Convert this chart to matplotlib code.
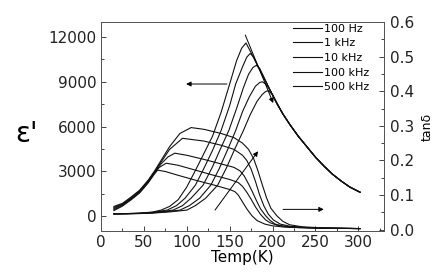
import numpy as np
import matplotlib
matplotlib.use("Agg")
import matplotlib.pyplot as plt
from matplotlib.ticker import MultipleLocator, FormatStrFormatter

plt.rcParams['font.family'] = ['DejaVu Sans']

labels = ["100 Hz", "1 kHz", "10 kHz", "100 kHz", "500 kHz"]

# shared high temperature tail of eps' (all frequencies merge)
tail_T = [212, 220, 230, 240, 250, 260, 270, 280, 290, 302]
tail_e = [6850, 6150, 5350, 4650, 3950, 3350, 2800, 2350, 1950, 1600]

# eps' (left axis)
eps_T = [
    [15, 30, 45, 60, 70, 80, 90, 100, 110, 120, 130, 140, 150, 158, 164, 169, 175, 182, 190, 197, 205],
    [15, 30, 45, 60, 77, 88, 98, 110, 120, 130, 140, 150, 157, 165, 170, 174, 178, 182, 190, 197, 205],
    [15, 30, 45, 60, 75, 84, 95, 105, 119, 130, 140, 149, 158, 166, 172, 177, 181, 185, 190, 197, 205],
    [15, 30, 45, 60, 75, 92, 103, 115, 128, 138, 148, 157, 165, 173, 180, 185, 188, 192, 197, 205],
    [15, 30, 45, 60, 80, 100, 110, 122, 136, 146, 156, 166, 174, 182, 188, 192, 195, 200, 205],
]
eps_v = [
    [150, 170, 200, 270, 400, 650, 1100, 1950, 3050, 4200, 5350, 6950, 8850, 10400, 11250, 11600, 10950, 10150, 9250, 8450, 7550],
    [150, 165, 190, 250, 400, 700, 1200, 2070, 3200, 4400, 5730, 7400, 8850, 10000, 10650, 10900, 10650, 10150, 9250, 8450, 7550],
    [150, 160, 180, 230, 330, 400, 700, 1200, 2070, 3300, 4600, 5730, 7200, 8600, 9500, 9950, 10100, 9900, 9300, 8450, 7550],
    [150, 160, 175, 215, 290, 400, 700, 1200, 2070, 3200, 4500, 5730, 7000, 8000, 8700, 8950, 9000, 8850, 8450, 7550],
    [150, 155, 170, 200, 280, 400, 700, 1200, 2070, 3200, 4500, 5730, 6800, 7700, 8150, 8350, 8400, 8150, 7600],
]

# tan delta (right axis)
tan_T = [
    [15, 25, 35, 45, 55, 62, 66, 75, 90, 110, 130, 150, 156, 160, 165, 170, 176, 182, 191, 200, 215, 240, 270, 302],
    [15, 25, 35, 45, 55, 62, 68, 76, 90, 110, 130, 150, 160, 165, 170, 175, 180, 186, 192, 197, 205, 220, 250, 302],
    [15, 25, 35, 45, 55, 62, 70, 78, 86, 100, 120, 140, 155, 162, 167, 172, 176, 181, 186, 192, 197, 203, 212, 230, 260, 302],
    [15, 25, 35, 45, 55, 62, 70, 80, 95, 120, 140, 155, 165, 170, 175, 180, 185, 190, 195, 201, 209, 220, 240, 270, 302],
    [15, 25, 35, 45, 55, 62, 70, 80, 92, 105, 120, 140, 155, 165, 172, 178, 183, 188, 193, 198, 205, 212, 220, 235, 260, 302],
]
tan_v = [
    [0.055, 0.068, 0.086, 0.106, 0.135, 0.160, 0.172, 0.168, 0.157, 0.143, 0.130, 0.116, 0.110, 0.100, 0.080, 0.060, 0.040, 0.026, 0.016, 0.011, 0.007, 0.005, 0.004, 0.003],
    [0.058, 0.070, 0.088, 0.108, 0.137, 0.162, 0.180, 0.192, 0.186, 0.172, 0.158, 0.145, 0.136, 0.125, 0.108, 0.088, 0.066, 0.044, 0.028, 0.020, 0.013, 0.008, 0.005, 0.003],
    [0.061, 0.072, 0.090, 0.110, 0.139, 0.164, 0.190, 0.210, 0.221, 0.215, 0.203, 0.190, 0.180, 0.170, 0.155, 0.132, 0.112, 0.085, 0.060, 0.040, 0.027, 0.016, 0.010, 0.006, 0.004, 0.003],
    [0.064, 0.074, 0.092, 0.112, 0.141, 0.166, 0.195, 0.232, 0.264, 0.256, 0.244, 0.232, 0.215, 0.200, 0.175, 0.140, 0.100, 0.068, 0.045, 0.028, 0.016, 0.010, 0.006, 0.004, 0.003],
    [0.067, 0.076, 0.094, 0.114, 0.143, 0.168, 0.200, 0.240, 0.278, 0.295, 0.290, 0.278, 0.266, 0.250, 0.232, 0.205, 0.170, 0.130, 0.092, 0.062, 0.040, 0.024, 0.014, 0.008, 0.005, 0.003],
]

fig = plt.figure(figsize=(4.45, 2.76), dpi=100)
ax = fig.add_axes([0.227, 0.163, 0.636, 0.757])
ax2 = ax.twinx()

lw = 0.8
for i in range(5):
    ax.plot(eps_T[i] + tail_T, eps_v[i] + tail_e, color='#111111', lw=lw, label=labels[i])
    ax2.plot(tan_T[i], tan_v[i], color='#111111', lw=lw)

ax.set_xlim(0, 330)
ax.set_ylim(-1000, 13000)
ax2.set_ylim(-0.004, 0.6)

ax.xaxis.set_major_locator(MultipleLocator(50))
ax.xaxis.set_minor_locator(MultipleLocator(25))
ax.yaxis.set_major_locator(MultipleLocator(3000))
ax.yaxis.set_minor_locator(MultipleLocator(1500))
ax2.yaxis.set_major_locator(MultipleLocator(0.1))
ax2.yaxis.set_minor_locator(MultipleLocator(0.05))
ax2.yaxis.set_major_formatter(FormatStrFormatter('%.1f'))

for a, p in ((ax, 3), (ax2, 4)):
    a.tick_params(which='both', direction='in', labelsize=11, pad=p, colors='#222222')
    a.tick_params(which='major', length=3.5, width=0.6)
    a.tick_params(which='minor', length=2, width=0.6)
    for s in a.spines.values():
        s.set_color('#555555')
        s.set_linewidth(0.7)

ax.set_xlabel("Temp(K)", fontsize=11, labelpad=0)
fig.text(0.06, 0.515, "ε'", fontsize=20, ha='center', va='center')
ax2.set_ylabel("tanδ", fontsize=9, labelpad=5)

arr = dict(arrowstyle='-|>', color='black', lw=0.7, mutation_scale=7)
ax.annotate("", xy=(96, 8850), xytext=(150, 8850), arrowprops=arr)
ax.annotate("", xy=(263, 450), xytext=(209, 450), arrowprops=arr)
ax.annotate("", xy=(202, 7400), xytext=(167, 12300), arrowprops=arr)
ax2.annotate("", xy=(185, 0.233), xytext=(131, 0.05), arrowprops=arr)

ax.legend(loc='upper left', bbox_to_anchor=(0.678, 0.993), frameon=False, fontsize=8,
          handlelength=2.6, handletextpad=0.2, labelspacing=0.42, borderpad=0,
          borderaxespad=0)

fig.savefig("out.png", dpi=100)
